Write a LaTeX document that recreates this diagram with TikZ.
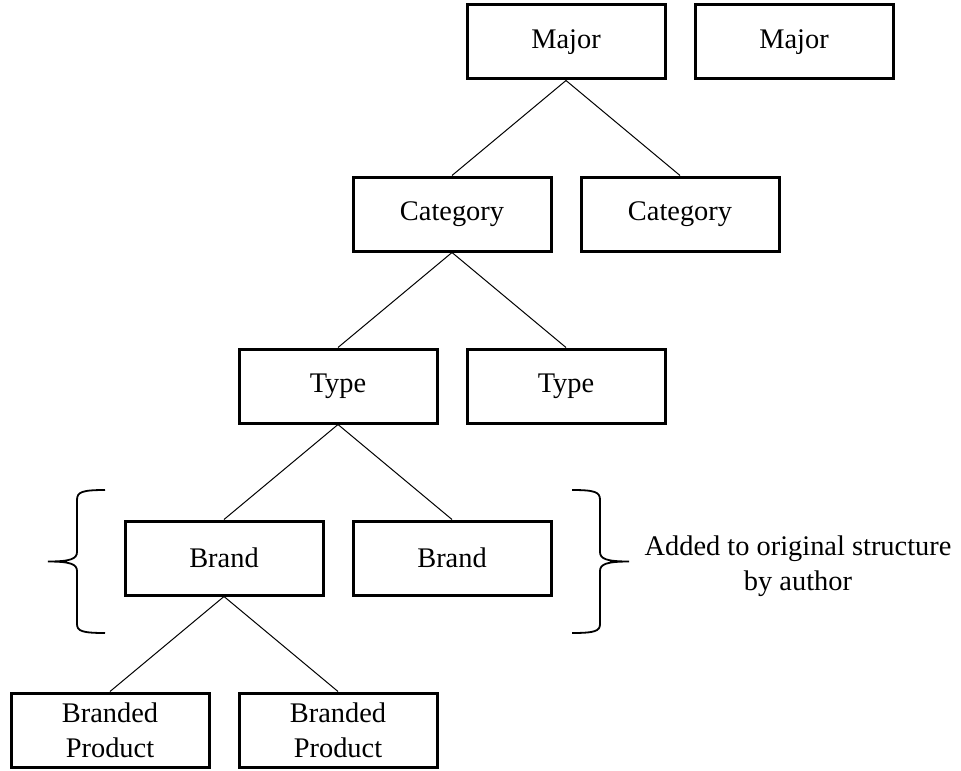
\documentclass[tikz,border=0pt]{standalone}
\usepackage{fontspec}
\setmainfont{Liberation Serif}
\usetikzlibrary{positioning}

\begin{document}
\begin{tikzpicture}[x=1pt, y=1pt, node distance=86pt and 57pt, on grid,
    level/.style={rectangle, draw, line width=1.5pt, minimum width=99pt, minimum height=37pt, align=center, font=\fontsize{14.2}{17.5}\selectfont},
    link/.style={line width=0.5pt},
    bracket/.style={line width=0.9pt}]
    \useasboundingbox (0,0) rectangle (480.5,-385);
    \node[level] (major1) at (283,-21) {Major};
    \node[level] (major2) [right=114pt of major1] {Major};
    \node[level] (cat1) [below left=of major1] {Category};
    \node[level] (cat2) [right=114pt of cat1] {Category};
    \node[level] (type1) [below left=of cat1] {Type};
    \node[level] (type2) [right=114pt of type1] {Type};
    \node[level] (brand1) [below left=of type1] {Brand};
    \node[level] (brand2) [right=114pt of brand1] {Brand};
    \node[level] (prod1) [below left=of brand1] {Branded\\Product};
    \node[level] (prod2) [right=114pt of prod1] {Branded\\Product};
    \foreach \from/\to in {major1/cat1, major1/cat2, cat1/type1, cat1/type2, type1/brand1, type1/brand2, brand1/prod1, brand1/prod2}
        \draw[link] (\from.south) -- (\to.north);
    % braces round the brand level
    \coordinate (lbtop) at (52.5,-245);
    \coordinate (lbbot) at (52.5,-316.5);
    \coordinate (rbtop) at (286,-245);
    \coordinate (rbbot) at (286,-316.5);
    \draw[bracket] (lbtop) .. controls (41,-245) and (38.5,-246) .. (38.5,-250)
        -- (38.5,-276) .. controls (38.5,-279.5) and (35,-280.75) .. (24,-280.75)
        .. controls (35,-280.75) and (38.5,-282) .. (38.5,-285.5)
        -- (38.5,-312) .. controls (38.5,-315.5) and (41,-316.5) .. (lbbot);
    \draw[bracket] (rbtop) .. controls (297.5,-245) and (300,-246) .. (300,-250)
        -- (300,-276) .. controls (300,-279.5) and (303.5,-280.75) .. (314.5,-280.75)
        .. controls (303.5,-280.75) and (300,-282) .. (300,-285.5)
        -- (300,-312) .. controls (300,-315.5) and (297.5,-316.5) .. (rbbot);
    \node (note) [align=center, font=\fontsize{14.2}{17.5}\selectfont] at (399,-283) {Added to original structure\\by author};
\end{tikzpicture}
\end{document}
